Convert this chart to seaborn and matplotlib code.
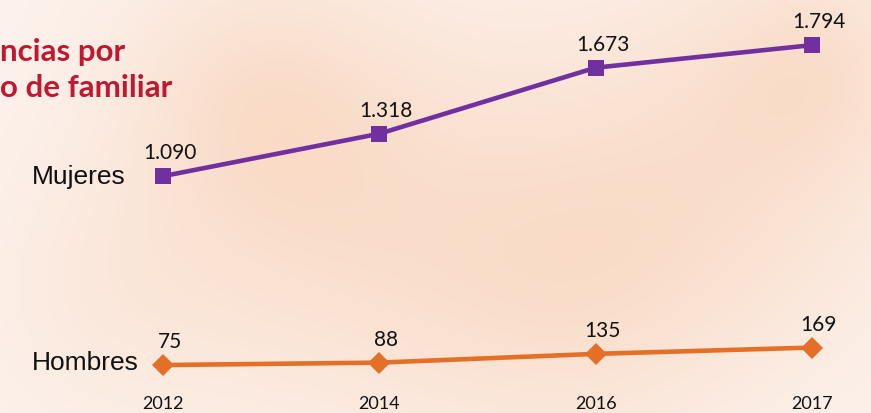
import matplotlib
matplotlib.use("Agg")
import matplotlib.pyplot as plt
import seaborn as sns
import pandas as pd
import numpy as np

years = ["2012", "2014", "2016", "2017"]
mujeres = [1090, 1318, 1673, 1794]
hombres = [75, 88, 135, 169]
mujeres_labels = ["1.090", "1.318", "1.673", "1.794"]
hombres_labels = ["75", "88", "135", "169"]
series_names = ["Mujeres", "Hombres"]
title_lines = ["ncias por", "o de familiar"]

sns.set_theme(style="white")
plt.rcParams["font.family"] = ["Lato", "DejaVu Sans"]

df = pd.DataFrame({
    "year": list(range(len(years))) * 2,
    "value": mujeres + hombres,
    "serie": [series_names[0]] * len(years) + [series_names[1]] * len(years),
})

W, H = 871, 413
bg = "#f9e2d5"
fig = plt.figure(figsize=(W / 100, H / 100), dpi=100, facecolor=bg)

# background axes with soft watercolor-like blobs
bax = fig.add_axes([0, 0, 1, 1], zorder=-1)
bax.set_axis_off()
yy, xx = np.mgrid[0:H, 0:W]
tex = np.zeros((H, W))
for cx, cy, r, a in [(330, 200, 150, 0.45), (720, 170, 140, 0.4), (560, 300, 120, 0.3),
                     (820, 60, 80, 0.3), (250, 90, 90, 0.25), (100, 300, 90, 0.15)]:
    tex += a * np.exp(-(((xx - cx) ** 2 + (yy - cy) ** 2) / (2 * r ** 2)))
tex = np.clip(tex, 0, 1)
light = np.array([0.99, 0.95, 0.93])
orange = np.array([0.97, 0.80, 0.68])
img = light[None, None, :] * (1 - tex[..., None]) + orange[None, None, :] * tex[..., None]
bax.imshow(img, extent=(0, W, H, 0), aspect="auto", interpolation="bilinear")
bax.set_xlim(0, W)
bax.set_ylim(H, 0)

ax = fig.add_axes([0, 0, 1, 1], zorder=1)
ax.patch.set_alpha(0)

palette = {"Mujeres": "#7030a0", "Hombres": "#e46f27"}
sns.lineplot(data=df, x="year", y="value", hue="serie", style="serie",
             markers={"Mujeres": "s", "Hombres": "D"}, dashes=False,
             palette=palette, linewidth=3.3, markersize=11, markeredgewidth=0,
             legend=False, ax=ax)

px_per_x = 216.33
xmin = -163 / px_per_x
ax.set_xlim(xmin, xmin + W / px_per_x)
ppu = 0.1861
ax.set_ylim((379 - 413) / ppu, 379 / ppu)
for s in ax.spines.values():
    s.set_visible(False)
ax.set_xticks([])
ax.set_yticks([])
ax.set_xlabel("")
ax.set_ylabel("")

for i, (v, t) in enumerate(zip(mujeres, mujeres_labels)):
    ax.annotate(t, (i, v), xytext=(5, 16.5), textcoords="offset points",
                ha="center", va="center", fontsize=15, color="#111111")
for i, (v, t) in enumerate(zip(hombres, hombres_labels)):
    ax.annotate(t, (i, v), xytext=(5, 16.5), textcoords="offset points",
                ha="center", va="center", fontsize=15, color="#111111")

for i, y in enumerate(years):
    ax.text(i, (379 - 404) / ppu, y, ha="center", va="center", fontsize=13, color="#111111")

ax.annotate(series_names[0], (0, mujeres[0]), xytext=(32, 413 - 177), textcoords="figure pixels",
            ha="left", va="center", fontsize=19, family=["Liberation Sans"], color="#111111")
ax.annotate(series_names[1], (0, hombres[0]), xytext=(32, 413 - 363), textcoords="figure pixels",
            ha="left", va="center", fontsize=19, family=["Liberation Sans"], color="#111111")

fig.text(0 / W, 1 - 52 / H, title_lines[0], ha="left", va="center", fontsize=22.5,
         fontweight="bold", color="#c0182f")
fig.text(0 / W, 1 - 88 / H, title_lines[1], ha="left", va="center", fontsize=22.5,
         fontweight="bold", color="#c0182f")

fig.savefig("out.png", dpi=100, facecolor=bg)
